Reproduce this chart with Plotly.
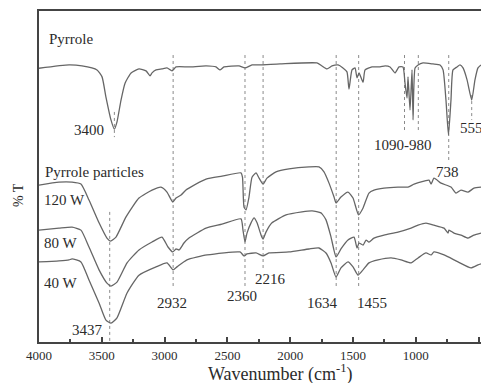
import plotly.graph_objects as go

# ---- data (wavenumber cm^-1, %T offset units) ----
pyrrole_w = [4000, 3761, 3658, 3538, 3498, 3467, 3427, 3400, 3379, 3347, 3315, 3267, 3204, 3148, 3116, 3100,
             3068, 3021, 2981, 2941, 2909, 2806, 2670, 2591, 2559, 2527, 2408, 2360, 2304, 2240, 2081, 1787,
             1747, 1707, 1667, 1619, 1580, 1548, 1532, 1508, 1484, 1468, 1452, 1420, 1404, 1349, 1285, 1245,
             1205, 1166, 1134, 1102, 1086, 1070, 1062, 1046, 1030, 1022, 1006, 982, 943, 863, 807, 783, 760,
             740, 720, 704, 672, 648, 624, 592, 555, 529, 505, 481]
pyrrole_t = [82.7, 83.7, 83.4, 82.2, 80.1, 74.0, 67.1, 64.3, 66.5, 73.1, 78.2, 81.3, 82.5, 81.9, 80.4, 81.3,
             82.2, 82.5, 82.8, 81.9, 83.1, 83.1, 83.4, 83.1, 82.2, 83.1, 83.4, 82.8, 83.7, 83.7, 84.0, 84.3,
             83.4, 82.5, 83.4, 83.7, 82.8, 81.6, 76.4, 82.2, 82.8, 79.8, 81.3, 78.5, 82.2, 83.1, 83.1, 83.4,
             83.1, 81.3, 83.1, 83.1, 78.2, 73.7, 80.1, 70.1, 82.2, 67.1, 82.8, 83.7, 84.3, 84.0, 83.7, 82.2, 73.1,
             62.5, 73.1, 82.2, 83.1, 83.7, 82.8, 79.2, 73.1, 79.2, 82.8, 83.7]

w120_w = [4000, 3841, 3737, 3666, 3602, 3522, 3459, 3430, 3387, 3307, 3204, 3100, 3029, 2981, 2935, 2909,
          2869, 2830, 2806, 2670, 2543, 2392, 2380, 2368, 2352, 2328, 2304, 2272, 2248, 2216, 2185, 2113,
          2010, 1850, 1771, 1731, 1691, 1651, 1635, 1596, 1540, 1500, 1456, 1420, 1373, 1333, 1253, 1142,
          1062, 1014, 935, 895, 879, 855, 799, 720, 680, 640, 584, 537, 481]
w120_t = [47.4, 48.3, 48.3, 47.7, 42.9, 36.0, 31.4, 30.5, 31.7, 37.8, 43.5, 45.9, 46.8, 45.3, 42.3, 43.5,
          44.4, 45.9, 46.5, 49.2, 50.1, 51.1, 49.8, 40.8, 39.9, 43.8, 49.8, 51.1, 49.5, 47.7, 49.5, 51.4,
          52.3, 52.9, 52.9, 51.4, 48.0, 43.8, 42.0, 43.8, 45.3, 43.5, 38.4, 40.5, 45.0, 45.9, 46.5, 46.8,
          46.8, 47.7, 48.6, 48.9, 47.7, 49.5, 48.0, 46.8, 45.0, 45.9, 45.3, 46.5, 46.8]

w80_w = [4000, 3841, 3737, 3666, 3602, 3522, 3459, 3427, 3379, 3299, 3204, 3100, 3021, 2973, 2935, 2909,
         2885, 2846, 2806, 2670, 2543, 2392, 2376, 2360, 2344, 2312, 2288, 2264, 2232, 2216, 2193, 2145,
         2033, 1906, 1826, 1755, 1715, 1675, 1635, 1596, 1540, 1492, 1468, 1452, 1420, 1396, 1373, 1333,
         1253, 1142, 1038, 982, 919, 855, 775, 744, 736, 696, 640, 584, 537, 481]
w80_t = [33.8, 34.4, 34.7, 33.8, 28.7, 21.8, 17.8, 16.9, 18.1, 23.9, 27.8, 30.2, 31.7, 28.7, 27.2, 28.1,
         27.8, 29.9, 31.4, 34.4, 35.6, 37.2, 33.8, 30.2, 32.9, 36.0, 37.5, 36.0, 32.3, 31.1, 33.2, 36.0,
         38.4, 39.3, 39.6, 39.0, 36.9, 31.7, 25.7, 28.1, 30.8, 31.7, 28.4, 29.9, 29.3, 30.8, 30.2, 31.4,
         32.3, 33.2, 34.4, 35.3, 35.9, 35.3, 34.4, 32.9, 33.8, 32.9, 32.3, 31.4, 32.3, 32.9]

w40_w = [4000, 3841, 3761, 3737, 3666, 3602, 3522, 3467, 3427, 3379, 3299, 3204, 3068, 2981, 2933, 2901,
         2822, 2662, 2400, 2368, 2344, 2272, 2216, 2169, 2010, 1850, 1771, 1715, 1675, 1635, 1596, 1540,
         1500, 1460, 1420, 1373, 1301, 1197, 1118, 1038, 982, 919, 879, 855, 775, 664, 560, 505, 481]
w40_t = [24.2, 24.5, 24.8, 25.1, 24.2, 18.7, 11.8, 6.6, 5.7, 7.3, 14.8, 20.2, 22.7, 23.9, 21.8, 22.7,
         24.8, 26.3, 27.2, 26.0, 26.6, 26.9, 26.0, 26.9, 27.2, 28.1, 28.4, 26.9, 23.9, 19.6, 22.4, 24.2,
         22.7, 20.2, 21.8, 23.9, 24.8, 25.4, 24.8, 23.9, 25.4, 26.9, 26.3, 27.2, 26.3, 24.2, 22.4, 23.3, 23.6]

# marker lines: wavenumber, top, bottom
mark_w = [3400, 2932, 3437, 2360, 2216, 1634, 1455, 1090, 980, 738, 555]
mark_top = [69.5, 86.7, 39.3, 86.7, 86.7, 86.7, 86.7, 86.7, 86.7, 86.7, 74.6]
mark_bot = [61.9, 16.6, 0.0, 16.3, 21.8, 16.6, 16.6, 64.0, 64.0, 54.4, 67.1]

# text labels
lab_text = ["Pyrrole", "3400", "Pyrrole particles", "120 W", "80 W", "40 W", "3437", "2932", "2360",
            "2216", "1634", "1455", "1090-980", "738", "555"]
lab_w = [3936, 3602, 3968, 3976, 3976, 3976, 3610, 2941, 2384, 2153, 1739, 1349, 1102, 744, 664]
lab_t = [91.5, 64.0, 51.4, 42.9, 29.9, 17.8, 3.6, 11.8, 13.9, 19.0, 11.8, 11.8, 59.5, 51.4, 64.6]
lab_anchor = ["left", "center", "left", "left", "left", "left", "center", "center", "center",
              "center", "center", "center", "center", "center", "left"]

FONT = "Liberation Serif, Times New Roman, serif"
CURVE = "#666666"
TXT = "#2b2b2b"

fig = go.Figure()

mx, my = [], []
for w, a, b in zip(mark_w, mark_top, mark_bot):
    mx += [w, w, None]
    my += [a, b, None]
fig.add_trace(go.Scatter(x=mx, y=my, mode="lines",
                         line=dict(color="#8a8a8a", width=1, dash="dot"), hoverinfo="skip"))

for xs, ys in [(pyrrole_w, pyrrole_t), (w120_w, w120_t), (w80_w, w80_t), (w40_w, w40_t)]:
    fig.add_trace(go.Scatter(x=xs, y=ys, mode="lines",
                             line=dict(color=CURVE, width=1.3, shape="spline", smoothing=0.5)))

for t, w, y, a in zip(lab_text, lab_w, lab_t, lab_anchor):
    fig.add_annotation(x=w, y=y, text=t, showarrow=False, xanchor=a, yanchor="middle",
                       font=dict(family=FONT, size=15, color=TXT))

fig.add_annotation(xref="paper", yref="paper", x=0.5475, y=-0.094, text="Wavenumber (cm<sup>-1</sup>)",
                   showarrow=False, xanchor="center", yanchor="middle",
                   font=dict(family=FONT, size=18, color=TXT))
fig.add_annotation(xref="paper", yref="paper", x=-0.0475, y=0.444, text="% T", textangle=-90,
                   showarrow=False, xanchor="center", yanchor="middle",
                   font=dict(family=FONT, size=14, color=TXT))

fig.update_layout(
    width=481, height=383,
    margin=dict(l=39, r=0, t=11, b=41),
    paper_bgcolor="white", plot_bgcolor="white",
    showlegend=False,
    xaxis=dict(range=[4000, 481], showgrid=False, zeroline=False,
               showline=True, linecolor="#444444", linewidth=2, mirror=True,
               ticks="inside", ticklen=5, tickwidth=1.5, tickcolor="#444444",
               tickvals=[4000, 3500, 3000, 2500, 2000, 1500, 1000, 500],
               minor=dict(ticks="inside", ticklen=3, tickwidth=1.5, tickcolor="#444444",
                          tickvals=[3750, 3250, 2750, 2250, 1750, 1250, 750]),
               tickfont=dict(family=FONT, size=13, color=TXT)),
    yaxis=dict(range=[0, 100], showgrid=False, zeroline=False, showticklabels=False,
               showline=True, linecolor="#444444", linewidth=2, ticks=""),
)

fig.write_html("out.html", config={"displayModeBar": False},
               post_script="document.body.style.margin='0px';")
